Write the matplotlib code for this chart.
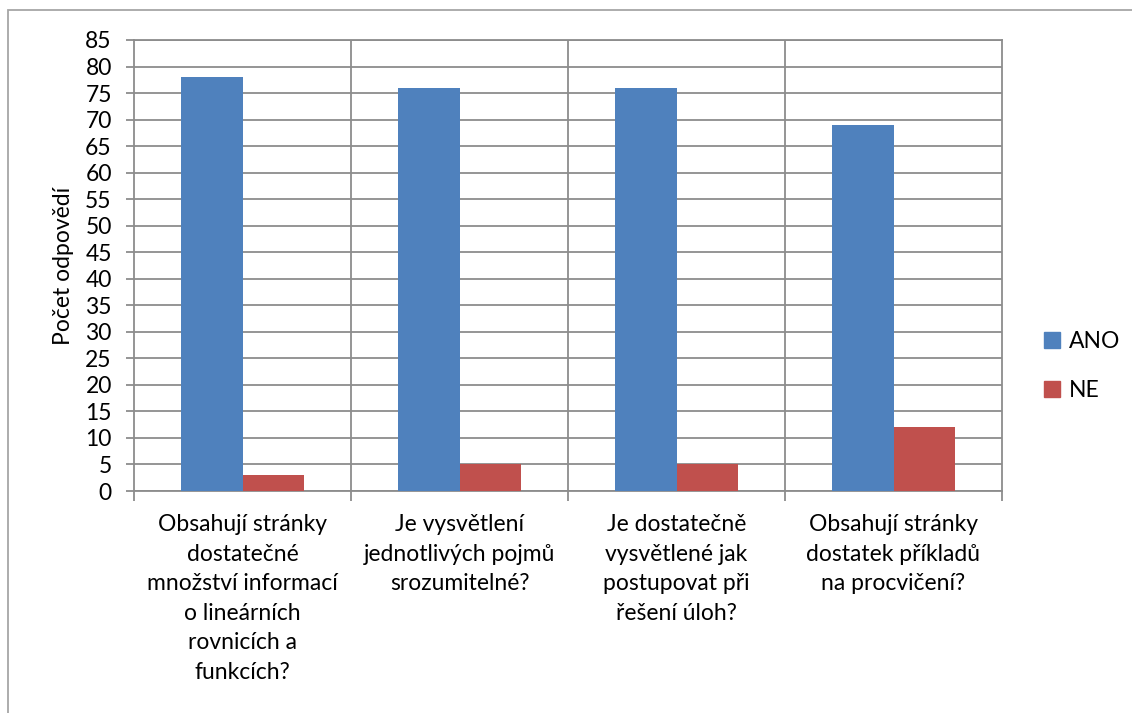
import matplotlib.pyplot as plt
from matplotlib.patches import Rectangle, Patch
import numpy as np

plt.rcParams['font.family'] = ['Lato', 'DejaVu Sans']

otazky = [
    'Obsahují stránky\ndostatečné\nmnožství informací\no lineárních\nrovnicích a\nfunkcích?',
    'Je vysvětlení\njednotlivých pojmů\nsrozumitelné?',
    'Je dostatečně\nvysvětlené jak\npostupovat při\nřešení úloh?',
    'Obsahují stránky\ndostatek příkladů\nna procvičení?',
]
ano = [78, 76, 76, 69]
ne = [3, 5, 5, 12]
serie = ['ANO', 'NE']
barvy = ['#4F81BD', '#C0504D']

W, H = 1132, 713
fs = 16.5
fig = plt.figure(figsize=(W / 100, H / 100), dpi=100)
ax = fig.add_axes([134 / W, 1 - 491 / H, (1002 - 134) / W, (491 - 40) / H])

grid = '#8C8C8C'
x = np.arange(len(otazky))
w = 0.285
ax.bar(x - w / 2, ano, w, color=barvy[0], zorder=3)
ax.bar(x + w / 2, ne, w, color=barvy[1], zorder=3)

ax.set_xlim(-0.5, len(otazky) - 0.5)
ax.set_ylim(0, 85)
ax.set_yticks(np.arange(0, 86, 5))
ax.tick_params(axis='y', labelsize=fs, length=6, width=1.3, color=grid, pad=10)
ax.yaxis.grid(True, color=grid, linewidth=1.3, zorder=0)

# category boundaries: gridlines + tick marks below the axis
hranice = np.arange(-0.5, len(otazky), 1.0)
ax.set_xticks(hranice)
ax.set_xticklabels([])
ax.tick_params(axis='x', length=7, width=1.3, color=grid)
for b in hranice[1:-1]:
    ax.axvline(b, color=grid, linewidth=1.3, zorder=0)

for s in ax.spines.values():
    s.set_color(grid)
    s.set_linewidth(1.3)

for i, t in enumerate(otazky):
    ax.text(i, -0.052, t, transform=ax.get_xaxis_transform(), ha='center',
            va='top', fontsize=fs, linespacing=1.5, multialignment='center')

ax.set_ylabel('Počet odpovědí', fontsize=fs, labelpad=8)

handles = [Patch(color=c) for c in barvy]
fig.legend(handles, serie, loc='center left', bbox_to_anchor=(1044 / W, 1 - 366 / H),
           frameon=False, fontsize=fs, handlelength=0.7, handleheight=0.7,
           handletextpad=0.4, labelspacing=1.2, borderpad=0, borderaxespad=0)

# outer chart frame
fig.add_artist(Rectangle((8 / W, -0.1), 1.2, 1.1 - 10 / H, transform=fig.transFigure,
                         fill=False, edgecolor='#A6A6A6', linewidth=1.3))

fig.savefig('out.png', dpi=100)
